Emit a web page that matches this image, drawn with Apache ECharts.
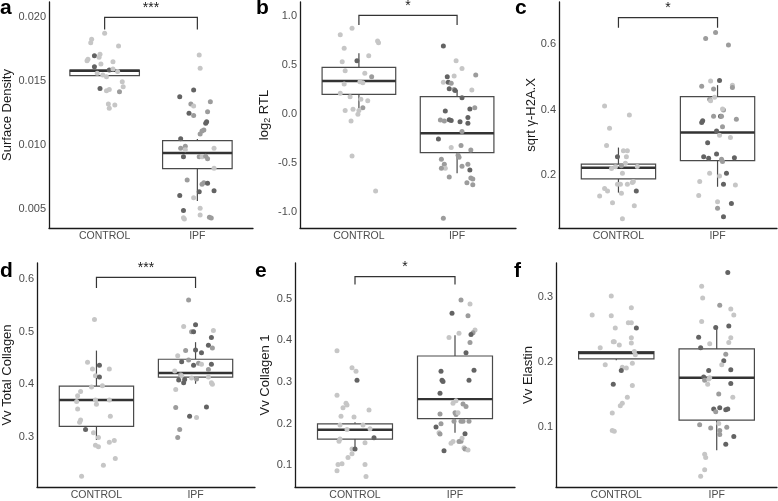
<!DOCTYPE html>
<html><head><meta charset="utf-8">
<script src="https://cdn.jsdelivr.net/npm/echarts@6/dist/echarts.min.js"></script>
<style>html,body{margin:0;padding:0;background:#fff}#c{width:778px;height:501px}</style>
</head><body><div id="c"></div>
<script>
const categories = ['CONTROL', 'IPF'];

// points: [jitter offset from group centre, value, shade 1-3]
const aControl = [[0.00,0.01875,1],[-0.14,0.01828,1],[-0.15,0.01802,1],[0.15,0.01776,1],[-0.18,0.01672,1],[-0.19,0.01661,1],[-0.11,0.01700,3],[-0.05,0.01711,1],[-0.06,0.01688,1],[-0.04,0.01635,1],[0.09,0.01654,1],[-0.11,0.01615,3],[0.05,0.01589,3],[0.09,0.01596,1],[0.14,0.01576,1],[-0.08,0.01563,1],[-0.02,0.01549,1],[0.02,0.01536,1],[0.19,0.01497,1],[0.20,0.01458,1],[-0.05,0.01445,3],[0.05,0.01437,1],[0.02,0.01427,1],[0.16,0.01419,2],[0.04,0.01323,1],[0.11,0.01315,1],[0.05,0.01289,1]];
const aIpf = [[0.02,0.01706,1],[0.03,0.01602,1],[-0.04,0.01432,3],[-0.19,0.01380,3],[-0.07,0.01323,2],[-0.04,0.01307,1],[0.14,0.01341,2],[-0.09,0.01250,3],[-0.04,0.01234,2],[0.11,0.01263,2],[0.10,0.01185,3],[0.09,0.01172,3],[0.07,0.01120,2],[0.05,0.01112,2],[0.03,0.01089,2],[-0.18,0.01052,3],[-0.13,0.00992,2],[-0.18,0.00977,2],[-0.13,0.00966,1],[-0.15,0.00911,3],[0.02,0.00911,2],[0.05,0.00911,1],[0.09,0.00914,2],[0.11,0.00896,2],[0.18,0.00977,1],[0.18,0.00820,1],[-0.11,0.00729,2],[0.07,0.00708,2],[0.05,0.00695,2],[0.11,0.00703,3],[0.02,0.00638,3],[0.18,0.00646,3],[-0.19,0.00607,3],[-0.04,0.00591,1],[0.03,0.00508,1],[-0.15,0.00490,3],[0.03,0.00456,1],[-0.15,0.00435,1],[-0.14,0.00425,1],[0.13,0.00438,2],[0.15,0.00433,2]];
const bControl = [[-0.07,0.874,1],[-0.19,0.810,1],[0.19,0.745,1],[0.20,0.728,1],[-0.15,0.671,1],[0.10,0.596,1],[-0.02,0.545,3],[-0.17,0.535,1],[-0.14,0.443,1],[0.06,0.416,1],[0.13,0.382,2],[0.01,0.331,1],[0.04,0.321,1],[-0.15,0.307,1],[-0.19,0.212,1],[-0.09,0.178,1],[0.02,0.151,1],[0.09,0.137,1],[0.04,0.066,2],[-0.06,0.049,1],[-0.14,0.036,1],[0.00,0.036,1],[-0.01,-0.002,1],[-0.08,-0.070,1],[-0.07,-0.426,1],[0.17,-0.783,1]];
const bIpf = [[-0.14,0.694,3],[-0.01,0.545,1],[0.05,0.464,1],[0.19,0.399,2],[-0.10,0.382,3],[-0.03,0.389,1],[-0.14,0.324,1],[-0.09,0.324,3],[-0.06,0.314,2],[-0.08,0.260,3],[-0.03,0.250,2],[-0.02,0.240,3],[0.15,0.246,1],[0.05,0.168,3],[-0.12,0.032,3],[0.13,0.052,3],[0.18,0.066,2],[-0.17,-0.060,2],[-0.13,-0.070,2],[-0.08,-0.056,3],[-0.06,-0.066,3],[0.03,-0.077,3],[0.11,-0.035,3],[0.11,-0.093,3],[0.05,-0.178,2],[-0.19,-0.253,3],[-0.06,-0.341,1],[0.04,-0.320,2],[0.14,-0.365,2],[0.01,-0.42,2],[0.02,-0.44,2],[-0.16,-0.46,2],[-0.13,-0.51,2],[-0.12,-0.55,1],[-0.16,-0.55,2],[0.05,-0.53,2],[0.11,-0.51,2],[0.13,-0.57,3],[0.14,-0.65,2],[0.16,-0.66,2],[-0.08,-0.64,2],[0.10,-0.70,2],[0.16,-0.72,2],[-0.14,-1.06,2]];
const cControl = [[-0.14,0.411,1],[0.11,0.384,1],[-0.09,0.343,1],[-0.12,0.290,1],[0.05,0.274,1],[0.09,0.274,1],[-0.01,0.256,3],[0.08,0.256,1],[0.07,0.236,1],[-0.03,0.225,1],[-0.07,0.220,1],[0.03,0.228,2],[0.19,0.226,1],[0.04,0.205,1],[0.15,0.180,1],[0.14,0.177,1],[-0.14,0.159,1],[-0.11,0.151,1],[-0.01,0.172,1],[0.02,0.172,1],[0.09,0.172,1],[0.18,0.151,3],[-0.19,0.136,1],[0.03,0.144,1],[-0.06,0.115,1],[0.16,0.106,1],[0.04,0.066,1]];
const cIpf = [[-0.02,0.636,2],[-0.12,0.618,2],[0.11,0.598,2],[0.02,0.489,3],[-0.07,0.488,1],[-0.16,0.472,2],[0.15,0.475,1],[0.15,0.468,2],[-0.04,0.463,2],[-0.08,0.432,2],[-0.07,0.427,1],[-0.03,0.438,1],[0.06,0.399,2],[0.05,0.402,1],[-0.15,0.366,3],[-0.16,0.361,3],[-0.04,0.380,2],[0.03,0.380,3],[0.04,0.380,2],[0.19,0.371,2],[-0.01,0.335,3],[0.05,0.348,2],[0.02,0.322,1],[0.13,0.315,1],[-0.10,0.299,3],[-0.14,0.256,3],[-0.09,0.251,3],[-0.01,0.264,3],[0.04,0.248,2],[0.05,0.241,2],[0.17,0.253,3],[-0.08,0.205,1],[0.09,0.205,3],[0.02,0.197,1],[-0.18,0.180,1],[0.06,0.172,3],[0.18,0.169,1],[-0.19,0.137,1],[0.00,0.118,1],[0.14,0.113,3],[0.00,0.098,2],[0.06,0.072,3]];
const dControl = [[-0.02,0.523,1],[-0.09,0.442,1],[0.03,0.436,3],[-0.04,0.429,1],[0.13,0.429,1],[-0.01,0.416,1],[0.03,0.414,3],[-0.05,0.395,1],[0.06,0.397,1],[-0.16,0.386,1],[-0.19,0.378,1],[-0.20,0.367,1],[-0.01,0.370,1],[0.00,0.362,1],[0.13,0.370,1],[-0.19,0.353,1],[-0.16,0.332,1],[-0.17,0.328,1],[0.14,0.339,1],[-0.11,0.314,3],[-0.03,0.308,1],[0.02,0.299,1],[-0.01,0.284,1],[0.02,0.281,1],[0.13,0.290,1],[0.18,0.293,1],[0.07,0.246,1],[0.19,0.259,1],[-0.15,0.225,1]];
const dIpf = [[-0.07,0.560,2],[-0.12,0.510,1],[0.00,0.513,3],[-0.04,0.500,2],[-0.02,0.500,3],[0.18,0.502,1],[0.16,0.489,3],[-0.10,0.464,2],[-0.18,0.454,1],[-0.14,0.443,3],[-0.07,0.446,2],[0.00,0.465,3],[0.06,0.460,3],[0.13,0.474,3],[0.17,0.469,2],[-0.02,0.436,3],[0.03,0.440,2],[0.06,0.438,1],[0.16,0.438,3],[-0.21,0.425,1],[-0.15,0.418,2],[-0.14,0.416,1],[-0.11,0.409,3],[-0.17,0.408,3],[-0.12,0.403,3],[-0.04,0.412,1],[0.01,0.410,2],[0.13,0.428,2],[0.13,0.414,1],[0.16,0.403,1],[0.17,0.400,1],[-0.20,0.390,1],[-0.20,0.356,2],[0.11,0.357,3],[-0.06,0.339,3],[0.01,0.337,1],[-0.16,0.314,2],[-0.18,0.299,2]];
const eControl = [[-0.18,0.375,1],[-0.03,0.334,1],[0.01,0.326,1],[0.02,0.304,3],[-0.18,0.268,1],[-0.09,0.249,1],[-0.12,0.238,1],[-0.08,0.245,1],[0.14,0.233,1],[-0.14,0.218,1],[-0.01,0.216,1],[-0.15,0.197,1],[0.08,0.197,1],[0.15,0.188,1],[0.19,0.166,3],[-0.16,0.158,1],[-0.15,0.163,1],[-0.08,0.186,1],[0.10,0.154,1],[-0.03,0.139,1],[-0.03,0.128,1],[-0.07,0.119,1],[0.00,0.139,3],[-0.13,0.104,1],[-0.17,0.102,1],[-0.18,0.087,1],[0.10,0.102,1],[0.11,0.073,1]];
const eIpf = [[0.06,0.497,2],[0.15,0.487,1],[-0.03,0.465,3],[0.13,0.459,2],[0.20,0.425,1],[0.18,0.418,2],[0.16,0.414,3],[0.04,0.417,1],[-0.06,0.407,1],[0.15,0.395,2],[0.11,0.370,3],[-0.14,0.326,3],[0.19,0.328,3],[-0.13,0.304,3],[-0.12,0.301,3],[0.14,0.304,3],[-0.15,0.273,3],[0.01,0.255,1],[-0.02,0.249,1],[0.08,0.247,2],[0.11,0.241,2],[0.00,0.226,2],[0.01,0.222,2],[0.03,0.226,1],[-0.15,0.223,2],[-0.01,0.206,2],[0.06,0.206,2],[0.08,0.206,2],[0.14,0.206,2],[-0.14,0.200,2],[-0.19,0.192,3],[-0.16,0.178,1],[-0.15,0.175,2],[0.10,0.176,3],[0.06,0.158,2],[0.07,0.165,1],[-0.04,0.153,1],[-0.02,0.157,1],[0.04,0.157,2],[0.09,0.142,1],[0.10,0.139,2],[0.13,0.137,1],[-0.11,0.135,3]];
const fControl = [[-0.05,0.301,1],[0.15,0.283,1],[-0.24,0.272,1],[-0.05,0.271,1],[-0.01,0.252,1],[0.12,0.260,1],[0.15,0.260,1],[0.20,0.252,3],[0.15,0.237,1],[-0.03,0.231,1],[-0.02,0.231,1],[0.03,0.226,1],[0.15,0.229,1],[-0.16,0.222,1],[0.18,0.216,1],[0.19,0.211,1],[-0.11,0.196,1],[0.16,0.198,1],[0.06,0.192,1],[0.10,0.191,1],[0.05,0.187,3],[-0.03,0.166,3],[0.16,0.164,1],[0.11,0.146,1],[0.06,0.137,1],[0.04,0.133,1],[-0.04,0.122,1],[-0.04,0.095,1],[-0.02,0.094,1]];
const fIpf = [[0.11,0.337,3],[-0.15,0.316,1],[-0.14,0.298,1],[0.03,0.287,2],[0.14,0.281,1],[0.17,0.272,1],[-0.15,0.262,1],[-0.01,0.253,3],[0.12,0.255,3],[0.14,0.237,1],[-0.18,0.238,3],[0.12,0.230,1],[-0.07,0.228,1],[-0.16,0.222,3],[0.09,0.212,2],[0.07,0.202,3],[0.05,0.196,1],[-0.08,0.187,3],[0.14,0.188,3],[-0.13,0.177,3],[-0.12,0.172,2],[-0.07,0.176,1],[-0.08,0.174,1],[-0.09,0.166,1],[0.14,0.167,3],[0.02,0.151,2],[0.16,0.146,1],[-0.03,0.128,3],[-0.01,0.124,2],[0.03,0.130,3],[0.09,0.127,3],[0.11,0.128,3],[-0.17,0.104,2],[0.02,0.106,1],[-0.06,0.099,2],[0.03,0.095,2],[0.03,0.089,2],[0.10,0.100,2],[0.17,0.086,3],[0.09,0.074,3],[-0.12,0.059,1],[-0.11,0.054,1],[-0.12,0.035,1],[-0.16,0.025,1]];

// box summaries per group: [lower whisker, Q1, median, Q3, upper whisker]
const aBoxes = [[0.01544,0.01544,0.01583,0.01588,0.01588],[0.00565,0.00818,0.00940,0.01036,0.01050]];
const bBoxes = [[0.059,0.202,0.338,0.477,0.620],[-0.603,-0.392,-0.195,0.178,0.246]];
const cBoxes = [[0.146,0.188,0.222,0.233,0.284],[0.164,0.244,0.330,0.440,0.475]];
const dBoxes = [[0.294,0.320,0.370,0.3965,0.464],[0.401,0.4135,0.4215,0.4475,0.480]];
const eBoxes = [[0.141,0.163,0.1856,0.1997,0.2036],[0.178,0.212,0.259,0.3625,0.412]];
const fBoxes = [[0.2027,0.2047,0.2137,0.2158,0.2158],[0.065,0.111,0.176,0.220,0.255]];

// y tick labels
const aTicks = [0.005, 0.010, 0.015, 0.020];
const bTicks = [-1.0, -0.5, 0.0, 0.5, 1.0];
const cTicks = [0.2, 0.4, 0.6];
const dTicks = [0.3, 0.4, 0.5, 0.6];
const eTicks = [0.1, 0.2, 0.3, 0.4, 0.5];
const fTicks = [0.1, 0.2, 0.3];

// significance brackets: [label, bar value, tick-end value]
const aSig = ['***', 0.0200, 0.01906];
const bSig = ['*', 1.007, 0.908];
const cSig = ['*', 0.682, 0.651];
const dSig = ['***', 0.603, 0.583];
const eSig = ['*', 0.553, 0.534];

const titles = ['Surface Density', '{a|log}{s|2}{a| RTL}', 'sqrt \u03b3-H2A.X', 'Vv Total Collagen', 'Vv Collagen 1', 'Vv Elastin'];
const letters = ['a', 'b', 'c', 'd', 'e', 'f'];

const panels = [
  {pts:[aControl,aIpf], boxes:aBoxes, ticks:aTicks, dec:3, sig:aSig, range:[0.00354,0.0212], grid:{left:45,top:2,width:208,height:226}, gap:35, letter:[0,15]},
  {pts:[bControl,bIpf], boxes:bBoxes, ticks:bTicks, dec:1, sig:bSig, range:[-1.16,1.1426], grid:{left:300,top:2,width:216,height:226}, gap:28, letter:[256,15]},
  {pts:[cControl,cIpf], boxes:cBoxes, ticks:cTicks, dec:1, sig:cSig, range:[0.0377,0.7296], grid:{left:559,top:2,width:218,height:226}, gap:21, letter:[515,15]},
  {pts:[dControl,dIpf], boxes:dBoxes, ticks:dTicks, dec:1, sig:dSig, range:[0.2047,0.6305], grid:{left:33,top:263,width:222,height:228}, gap:23, letter:[0,278]},
  {pts:[eControl,eIpf], boxes:eBoxes, ticks:eTicks, dec:1, sig:eSig, range:[0.0481,0.5856], grid:{left:295,top:263,width:220,height:228}, gap:23, letter:[255,278]},
  {pts:[fControl,fIpf], boxes:fBoxes, ticks:fTicks, dec:1, sig:null, range:[0.0087,0.3516], grid:{left:556,top:263,width:221,height:228}, gap:21, letter:[514,278]}
];

const shadeColors = {1:'#c6c6c6', 2:'#9c9c9c', 3:'#636363'};
const FONT = "'Liberation Sans', Arial, sans-serif";

const grids = [], xAxes = [], yAxes = [], series = [], graphics = [];
panels.forEach((p, i) => {
  grids.push(Object.assign({containLabel:false}, p.grid));
  xAxes.push({
    type:'value', gridIndex:i, min:0.4, max:2.6,
    axisLine:{show:true, onZero:false, lineStyle:{color:'#1a1a1a', width:1.3}},
    axisTick:{show:false}, splitLine:{show:false},
    axisLabel:{customValues:[1,2], formatter:v => categories[Math.round(v)-1] || '', color:'#4d4d4d', fontSize:10.5, fontFamily:FONT, margin:3}
  });
  yAxes.push({
    type:'value', gridIndex:i, min:p.range[0], max:p.range[1],
    axisLine:{show:true, onZero:false, lineStyle:{color:'#1a1a1a', width:1.3}},
    axisTick:{show:false}, splitLine:{show:false},
    axisLabel:{customValues:p.ticks, formatter:v => Number(v).toFixed(p.dec), color:'#4d4d4d', fontSize:11, fontFamily:FONT, margin:3},
    name:titles[i], nameLocation:'middle', nameGap:p.gap, nameMoveOverlap:false,
    nameTextStyle:{color:'#1a1a1a', fontSize:13, fontFamily:FONT,
      rich:{a:{fontSize:13, fontFamily:FONT, color:'#1a1a1a'}, s:{fontSize:9, fontFamily:FONT, color:'#1a1a1a', padding:[6,0,0,0]}}}
  });
  // boxes
  series.push({
    type:'custom', xAxisIndex:i, yAxisIndex:i, z:2,
    data:p.boxes.map((b, k) => [k + 1].concat(b)),
    renderItem:(params, api) => {
      const x = api.value(0), hw = 0.375;
      const lo = api.coord([x, api.value(1)]), q1 = api.coord([x, api.value(2)]);
      const md = api.coord([x, api.value(3)]), q3 = api.coord([x, api.value(4)]);
      const hi = api.coord([x, api.value(5)]);
      const l = api.coord([x - hw, 0])[0], r = api.coord([x + hw, 0])[0];
      const st = {stroke:'#4a4a4a', lineWidth:1.2, fill:null};
      return {type:'group', children:[
        {type:'line', shape:{x1:lo[0], y1:lo[1], x2:q1[0], y2:q1[1]}, style:st},
        {type:'line', shape:{x1:q3[0], y1:q3[1], x2:hi[0], y2:hi[1]}, style:st},
        {type:'rect', shape:{x:l, y:q3[1], width:r - l, height:q1[1] - q3[1]}, style:{stroke:'#4a4a4a', lineWidth:1.2, fill:'#ffffff'}},
        {type:'line', shape:{x1:l, y1:md[1], x2:r, y2:md[1]}, style:{stroke:'#333333', lineWidth:2.4}}
      ]};
    }
  });
  // points
  p.pts.forEach((grp, k) => {
    series.push({
      type:'scatter', xAxisIndex:i, yAxisIndex:i, z:3, symbolSize:5,
      data:grp.map(d => [k + 1 + d[0], d[1], d[2]]),
      itemStyle:{color:params => shadeColors[params.data[2]], opacity:1},
      emphasis:{disabled:true}, silent:true
    });
  });
  // bracket
  if (p.sig) {
    series.push({
      type:'custom', xAxisIndex:i, yAxisIndex:i, z:4,
      data:[[1, 2, p.sig[1], p.sig[2]]],
      renderItem:(params, api) => {
        const a1 = api.coord([api.value(0), api.value(3)]), a2 = api.coord([api.value(0), api.value(2)]);
        const b2 = api.coord([api.value(1), api.value(2)]), b1 = api.coord([api.value(1), api.value(3)]);
        return {type:'group', children:[
          {type:'polyline', shape:{points:[a1, a2, b2, b1]}, style:{stroke:'#333333', lineWidth:1.2, fill:null}},
          {type:'text', x:(a2[0] + b2[0]) / 2, y:a2[1] - 2, style:{text:p.sig[0], fill:'#1a1a1a', fontSize:14, fontFamily:FONT, align:'center', verticalAlign:'bottom'}}
        ]};
      }
    });
  }
  graphics.push({type:'text', left:p.letter[0], top:p.letter[1] - 17, style:{text:letters[i], fill:'#000', font:"bold 21px " + FONT}});
});

const chart = echarts.init(document.getElementById('c'), null, {renderer:'canvas'});
chart.setOption({animation:false, backgroundColor:'#ffffff', grid:grids, xAxis:xAxes, yAxis:yAxes, series:series, graphic:graphics});
</script>
</body></html>
